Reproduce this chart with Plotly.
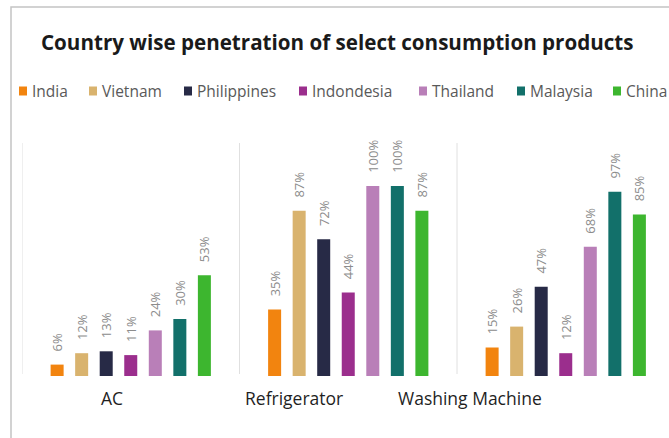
import plotly.graph_objects as go

# Penetration (%) of consumer durables by country
products = ["AC", "Refrigerator", "Washing Machine"]
countries = ["India", "Vietnam", "Philippines", "Indondesia", "Thailand", "Malaysia", "China"]
india = [6, 35, 15]
vietnam = [12, 87, 26]
philippines = [13, 72, 47]
indonesia = [11, 44, 12]
thailand = [24, 100, 68]
malaysia = [30, 100, 97]
china = [53, 87, 85]

series = [india, vietnam, philippines, indonesia, thailand, malaysia, china]
colors = ["#F2840F", "#D9B36E", "#272A46", "#9B2E8D", "#B97FB8", "#12706A", "#3DB62F"]

W, H = 669, 438
font = "Open Sans"

L, R, T, B = 22, 0, 146, 62
plot_w = W - L - R
plot_h = H - T - B
cat_px = 217.5


def px(x):
    """page pixel x -> paper coordinate"""
    return (x - L) / plot_w


def py(y):
    """page pixel y (from top) -> paper coordinate"""
    return (H - B - y) / plot_h


# leading non-breaking spaces lift the rotated value labels off the bar tops
pad = "\u00a0" * 3

fig = go.Figure()
for name, vals, col in zip(countries, series, colors):
    fig.add_trace(go.Bar(
        name=name,
        x=products,
        y=[v / 100 for v in vals],
        marker=dict(color=col, line=dict(width=0)),
        text=[f"{pad}{v}%" for v in vals],
        textposition="outside",
        textangle=-90,
        constraintext="none",
        cliponaxis=False,
        textfont=dict(family=font, size=13, color="#8C8C8C"),
        showlegend=False,
    ))

shapes = []
# outer frame
shapes.append(dict(type="rect", xref="paper", yref="paper",
                   x0=px(11), x1=px(W + 10), y0=py(H + 10), y1=py(7),
                   line=dict(color="#C4C4C4", width=1.5), fillcolor="rgba(0,0,0,0)",
                   layer="below"))
# category separators
for xb in [-0.5, 0.5, 1.5]:
    shapes.append(dict(type="line", xref="x", yref="paper",
                       x0=xb, x1=xb, y0=py(374), y1=py(143),
                       line=dict(color="#E0E0E0", width=1)))

annotations = []
# title
annotations.append(dict(text="<b>Country wise penetration of select consumption products</b>",
                        xref="paper", yref="paper", x=px(39), y=py(42),
                        xanchor="left", yanchor="middle", showarrow=False,
                        font=dict(family=font, size=20.6, color="#1A1A1A")))

# legend: colored squares with labels
leg_sq = [19, 89, 184, 299, 419, 517, 613]
leg_y = 91
for name, col, sx in zip(countries, colors, leg_sq):
    shapes.append(dict(type="rect", xref="paper", yref="paper",
                       x0=px(sx), x1=px(sx + 8),
                       y0=py(leg_y + 4.5), y1=py(leg_y - 4.5),
                       fillcolor=col, line=dict(width=0)))
    annotations.append(dict(text=name, xref="paper", yref="paper",
                            x=px(sx + 11), y=py(leg_y),
                            xanchor="left", yanchor="middle", showarrow=False,
                            font=dict(family=font, size=15.5, color="#595959")))

# category labels
cat_label_x = [112, 294, 470]
for lab, cx in zip(products, cat_label_x):
    annotations.append(dict(text=lab, xref="paper", yref="paper",
                            x=px(cx), y=py(398),
                            xanchor="center", yanchor="middle", showarrow=False,
                            font=dict(family=font, size=17.5, color="#1F1F1F")))

fig.update_layout(
    width=W, height=H,
    margin=dict(l=L, r=R, t=T, b=B),
    paper_bgcolor="white", plot_bgcolor="white",
    barmode="group", bargap=0.21, bargroupgap=0.47,
    xaxis=dict(range=[-0.5, -0.5 + plot_w / cat_px], showticklabels=False,
               showgrid=False, zeroline=False, showline=False, ticks=""),
    yaxis=dict(range=[0, plot_h / 190], visible=False),
    shapes=shapes, annotations=annotations,
    showlegend=False,
)

fig.write_html("out.html")
